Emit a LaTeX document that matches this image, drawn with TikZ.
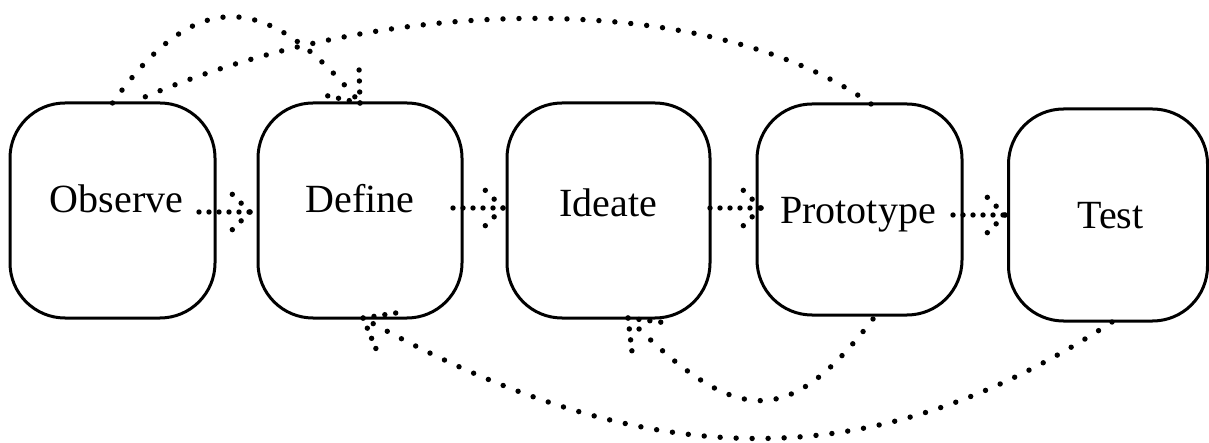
\documentclass[tikz,border=0pt]{standalone}
\usepackage{fontspec}
\setmainfont{Liberation Serif}
\usetikzlibrary{calc,decorations.markings}

\tikzset{
  stage/.style={draw, line width=3pt, rounded corners=55pt, inner sep=0pt, outer sep=0pt},
  lbl/.style={anchor=base, inner sep=0pt, font=\fontsize{40}{48}\selectfont},
  dotline/.style={line width=5.4pt, line cap=round, dash pattern=on 0pt off #1},
  % straight dotted link with a dotted chevron head
  shortlink/.style={dotline=10pt,
    postaction={decorate, decoration={markings, mark=at position 0.9999 with {
      \draw[dotline=12.5pt] (0,0) -- (135:25);
      \draw[dotline=12.5pt] (0,0) -- (225:25);}}}},
  % curved dotted link
  longlink/.style={dotline=16pt},
  longarrow/.style={dotline=16pt,
    postaction={decorate, decoration={markings, mark=at position 0.9999 with {
      \draw[dotline=11pt] (0,0) -- (142:34);
      \draw[dotline=11pt] (0,0) -- (218:34);}}}}
}

\begin{document}
\begin{tikzpicture}[x=1pt,y=1pt]
\useasboundingbox (0,0) rectangle (1209,442);

% stages
\node[stage, minimum width=205pt, minimum height=215pt] (obs) at (112.5,231.5) {};
\node[stage, minimum width=204pt, minimum height=215pt] (def) at (360,231.5) {};
\node[stage, minimum width=203pt, minimum height=215pt] (ide) at (608.5,231.5) {};
\node[stage, minimum width=205pt, minimum height=211pt] (pro) at (859.5,232.5) {};
\node[stage, minimum width=199pt, minimum height=212pt] (tst) at (1108,227) {};

% labels
\node[lbl] (tobs) at ($(obs.center)+(4,-2.5)$) {Observe};
\node[lbl] (tdef) at ($(def.center)+(0,-2.5)$) {Define};
\node[lbl] (tide) at ($(ide.center)+(0,-6.5)$) {Ideate};
\node[lbl] (tpro) at ($(pro.center)+(-1.5,-14.5)$) {Prototype};
\node[lbl] (ttst) at ($(tst.center)+(2.5,-14)$) {Test};

% forward links between neighbouring stages
\coordinate (s1) at ($(obs.east)+(-16,-1.5)$);
\coordinate (s2) at ($(def.east)+(-9,2.5)$);
\coordinate (s3) at ($(ide.east)+(0,2.5)$);
\coordinate (s4) at ($(pro.east)+(-9,-5.5)$);
\draw[shortlink] (s1) -- ([xshift=-8pt]s1 -| def.west);
\draw[shortlink] (s2) -- ([xshift=-4pt]s2 -| ide.west);
\draw[shortlink] (s3) -- ([xshift=4pt]s3 -| pro.west);
\draw[shortlink] (s4) -- ([xshift=-3.5pt]s4 -| tst.west);

% loops over the top
\draw[longarrow] (obs.north) .. controls +(82,115) and +(-95,115) .. (def.north);
\draw[longlink] ($(pro.north)+(11.5,0)$) .. controls +(-160,114) and +(254,113) .. ($(obs.north)+(18.5,0)$);

% loops underneath
\draw[longarrow] ($(pro.south)+(13.5,-4)$) .. controls +(-84,-109) and +(109,-110) .. ($(ide.south)+(19.5,0)$);
\draw[longarrow] ($(tst.south)+(4,-1)$) .. controls +(-239,-156) and +(286,-160) .. ($(def.south)+(3,0)$);
\end{tikzpicture}
\end{document}
